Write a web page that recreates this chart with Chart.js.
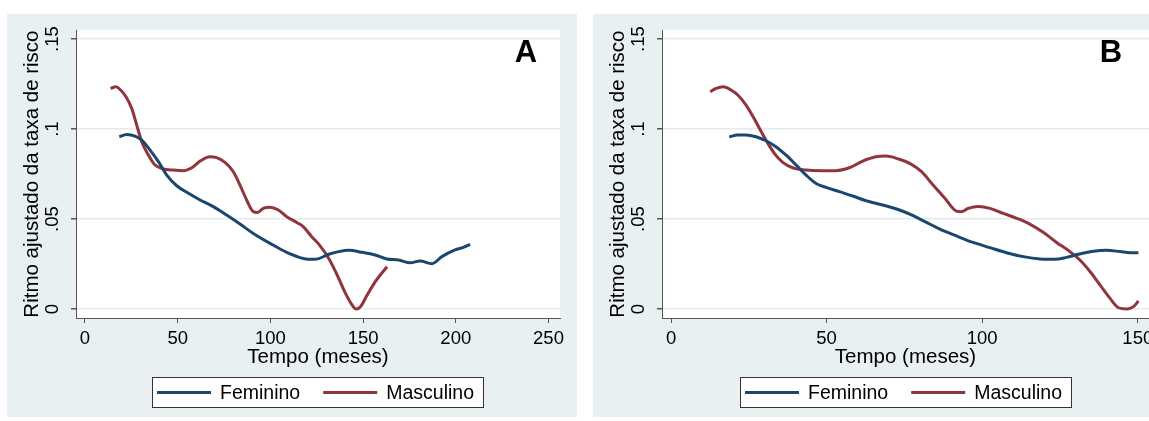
<!DOCTYPE html>
<html>
<head>
<meta charset="utf-8">
<script src="https://cdn.jsdelivr.net/npm/chart.js@4"></script>
<style>
  body { margin: 0; background: #fff; }
  .painel { position: absolute; top: 14px; height: 403px; background: #e9f0f2; overflow: hidden; }
  #painelA { left: 7px; width: 570px; }
  #painelB { left: 593px; width: 556px; }
  .interno { position: absolute; left: 0; top: 0; height: 403px; }
</style>
</head>
<body>
<div class="painel" id="painelA"><div class="interno" style="width:570px"><canvas id="graficoA"></canvas></div></div>
<div class="painel" id="painelB"><div class="interno" style="width:580px"><canvas id="graficoB"></canvas></div></div>
<script>
// Painel A - feminino
const mesesFemA = [18.5, 22.5, 27, 30.6, 35.1, 39.6, 44.1, 49.5, 55.8, 62.1, 69.2, 76.4, 83.6, 90.8, 99.8, 108.8, 117.8, 124.1, 131.5, 136.9, 142.3, 149.5, 156.6, 162.9, 169.2, 175.4, 180.8, 187.1, 192.5, 199.6, 204.1, 207.7];
const ritmoFemA = [0.0957, 0.0970, 0.0961, 0.0939, 0.0883, 0.0819, 0.0744, 0.0685, 0.0643, 0.0606, 0.0569, 0.0522, 0.0472, 0.0420, 0.0365, 0.0315, 0.0281, 0.0276, 0.0304, 0.0319, 0.0326, 0.0315, 0.0300, 0.0278, 0.0272, 0.0257, 0.0267, 0.0252, 0.0291, 0.0328, 0.0343, 0.0359];
// Painel A - masculino
const mesesMascA = [13.8, 16.7, 19.2, 22.1, 25.2, 27.9, 30.6, 34.2, 37.8, 42.3, 47.7, 53.1, 57.6, 62.1, 67.4, 71, 75.5, 80, 83.6, 87.2, 90.8, 93, 96.2, 99.8, 104.3, 108.8, 114.2, 117.8, 122.3, 126.5, 131.5, 136, 140.5, 144.1, 146.2, 148.6, 152.2, 156.6, 162.9];
const ritmoMascA = [0.1226, 0.1235, 0.1217, 0.1180, 0.1115, 0.1022, 0.0930, 0.0856, 0.0800, 0.0778, 0.0772, 0.0769, 0.0785, 0.0822, 0.0846, 0.0841, 0.0815, 0.0763, 0.0689, 0.0606, 0.0541, 0.0537, 0.0559, 0.0565, 0.0550, 0.0513, 0.0481, 0.0457, 0.0402, 0.0355, 0.0281, 0.0189, 0.0087, 0.0022, 0.0000, 0.0013, 0.0078, 0.0152, 0.0235];

// Painel B - feminino
const mesesFemB = [18.7, 21.4, 24.1, 27.3, 30.5, 33.7, 36.9, 40.2, 43.4, 46.6, 49.8, 54.1, 58.4, 62.6, 68, 73.4, 77.8, 82.1, 86.4, 91.7, 97.1, 102.5, 107.8, 113.2, 118.6, 123.4, 127.1, 130.9, 135.2, 140, 144.3, 147.5, 150.2];
const ritmoFemB = [0.0957, 0.0967, 0.0967, 0.0957, 0.0935, 0.0902, 0.0856, 0.0800, 0.0744, 0.0698, 0.0676, 0.0652, 0.0628, 0.0602, 0.0578, 0.0550, 0.0519, 0.0481, 0.0444, 0.0406, 0.0370, 0.0341, 0.0313, 0.0291, 0.0278, 0.0276, 0.0287, 0.0304, 0.0319, 0.0326, 0.0319, 0.0313, 0.0313];
// Painel B - masculino
const mesesMascB = [12.6, 14.5, 16.8, 19.3, 21.7, 24.1, 26.2, 28.4, 30.5, 33.2, 35.9, 39.1, 43.4, 48.7, 53, 57.3, 61.6, 65.8, 69.1, 73.4, 76.7, 80.5, 84.2, 88, 91.7, 93.3, 95.5, 98.7, 102.5, 106.8, 111.1, 115.3, 119.6, 123.9, 128.2, 131.4, 134.7, 137.9, 141.1, 143.8, 146.5, 148.6, 150.2];
const ritmoMascB = [0.1207, 0.1226, 0.1235, 0.1217, 0.1185, 0.1133, 0.1074, 0.1004, 0.0939, 0.0865, 0.0815, 0.0785, 0.0772, 0.0769, 0.0769, 0.0785, 0.0822, 0.0846, 0.0850, 0.0832, 0.0809, 0.0763, 0.0689, 0.0615, 0.0544, 0.0541, 0.0559, 0.0569, 0.0559, 0.0531, 0.0504, 0.0472, 0.0426, 0.0370, 0.0319, 0.0272, 0.0207, 0.0133, 0.0059, 0.0007, 0.0000, 0.0013, 0.0044];

const fonte = '"Liberation Sans", Arial, sans-serif';
Chart.defaults.font.family = fonte;
Chart.defaults.color = '#000';

const pontos = (xs, ys) => xs.map((x, i) => ({ x: x, y: ys[i] }));

// fundo branco da area do grafico
const fundoPlot = {
  id: 'fundoPlot',
  beforeDraw(chart) {
    const { ctx, chartArea: a } = chart;
    ctx.save();
    ctx.fillStyle = '#fff';
    ctx.fillRect(a.left, a.top, a.right - a.left, a.bottom - a.top);
    ctx.restore();
  }
};

// legenda com caixa, centrada sob a area do grafico
const legendaCaixa = {
  id: 'legendaCaixa',
  afterDraw(chart) {
    const { ctx, chartArea: a } = chart;
    const ds = chart.data.datasets;
    ctx.save();
    ctx.font = '19.5px ' + fonte;
    const larg = ds.map(d => ctx.measureText(d.label).width);
    const linha = 54, pad = 5, gapTxt = 9, gapItem = 23, padDir = 10;
    let total = pad + padDir + ds.length * (linha + gapTxt) + (ds.length - 1) * gapItem;
    larg.forEach(w => total += w);
    const x0 = Math.round((a.left + a.right) / 2 - total / 2);
    const topo = a.bottom + 59, alt = 31;
    ctx.fillStyle = '#fff';
    ctx.fillRect(x0, topo, total, alt);
    ctx.strokeStyle = '#333';
    ctx.lineWidth = 1;
    ctx.strokeRect(x0 + 0.5, topo + 0.5, total - 1, alt - 1);
    let x = x0 + pad;
    const yc = topo + alt / 2;
    ds.forEach((d, i) => {
      ctx.strokeStyle = d.borderColor;
      ctx.lineWidth = 3;
      ctx.beginPath();
      ctx.moveTo(x, yc);
      ctx.lineTo(x + linha, yc);
      ctx.stroke();
      x += linha + gapTxt;
      ctx.fillStyle = '#000';
      ctx.textBaseline = 'middle';
      ctx.fillText(d.label, x, yc + 1);
      x += larg[i] + gapItem;
    });
    ctx.restore();
  }
};

// letra do painel no canto superior direito
const letraPainel = {
  id: 'letraPainel',
  afterDraw(chart, args, opts) {
    const { ctx, chartArea: a } = chart;
    ctx.save();
    ctx.font = 'bold 31px ' + fonte;
    ctx.fillStyle = '#000';
    ctx.textAlign = 'center';
    ctx.textBaseline = 'middle';
    ctx.fillText(opts.texto, a.right - opts.recuo, a.top + 23);
    ctx.restore();
  }
};

function formatoY(v) {
  const r = Math.round(v * 100) / 100;
  return r === 0 ? '0' : String(r).replace('0.', '.');
}

function criarGrafico(id, fem, masc, xMin, xMax, padDir, letra, recuo) {
  const ctx = document.getElementById(id).getContext('2d');
  return new Chart(ctx, {
    type: 'scatter',
    data: {
      datasets: [
        {
          label: 'Feminino',
          data: fem,
          showLine: true,
          borderColor: '#1a476f',
          borderWidth: 3,
          pointRadius: 0,
          cubicInterpolationMode: 'monotone'
        },
        {
          label: 'Masculino',
          data: masc,
          showLine: true,
          borderColor: '#90353b',
          borderWidth: 3,
          pointRadius: 0,
          cubicInterpolationMode: 'monotone'
        }
      ]
    },
    options: {
      responsive: true,
      maintainAspectRatio: false,
      animation: false,
      layout: { padding: { top: 15, right: padDir, bottom: 37, left: 0 } },
      plugins: {
        legend: { display: false },
        tooltip: { enabled: false },
        letraPainel: { texto: letra, recuo: recuo }
      },
      scales: {
        x: {
          type: 'linear',
          min: xMin,
          max: xMax,
          afterFit: (s) => { s.height = 62; },
          ticks: { stepSize: 50, includeBounds: false, padding: 5, font: { size: 18.5 }, maxRotation: 0 },
          grid: { drawOnChartArea: false, tickLength: 5, tickColor: '#555' },
          border: { color: '#555', width: 1 },
          title: { display: true, text: 'Tempo (meses)', font: { size: 20.5 }, padding: { top: 0, bottom: 10 } }
        },
        y: {
          min: -0.005,
          max: 0.155,
          afterFit: (s) => { s.width = 69; },
          ticks: {
            stepSize: 0.05,
            includeBounds: false,
            minRotation: 90,
            maxRotation: 90,
            crossAlign: 'center',
            padding: 5,
            font: { size: 18.5 },
            callback: formatoY
          },
          grid: { color: '#e3ebee', lineWidth: 1.5, tickLength: 5, tickColor: '#555' },
          border: { color: '#555', width: 1 },
          title: { display: true, text: 'Ritmo ajustado da taxa de risco', font: { size: 20.5 }, padding: { top: 13, bottom: 0 } }
        }
      }
    },
    plugins: [fundoPlot, legendaCaixa, letraPainel]
  });
}

criarGrafico('graficoA', pontos(mesesFemA, ritmoFemA), pontos(mesesMascA, ritmoMascA), -4.85, 256.2, 17, 'A', 34);
criarGrafico('graficoB', pontos(mesesFemB, ritmoFemB), pontos(mesesMascB, ritmoMascB), -2.9, 153.6, 24, 'B', 38);
</script>
</body>
</html>
